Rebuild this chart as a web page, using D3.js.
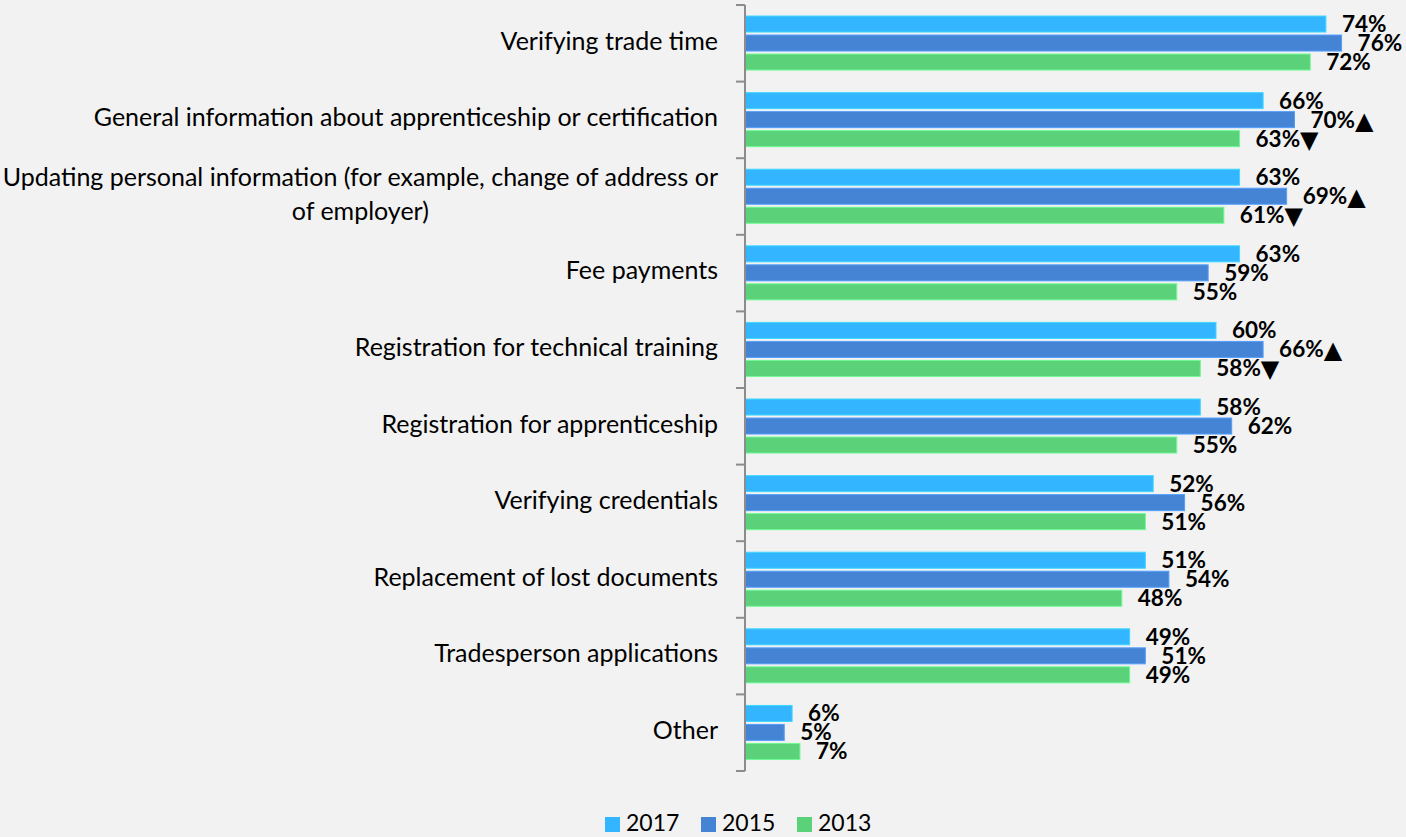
<!DOCTYPE html>
<html>
<head>
<meta charset="utf-8">
<script src="https://cdn.jsdelivr.net/npm/d3@7/dist/d3.min.js"></script>
<style>
  html, body { margin: 0; padding: 0; background: #f2f2f2; }
  svg { display: block; }
  text { font-family: Lato, "Open Sans", sans-serif; fill: #000; }
</style>
</head>
<body>
<svg id="chart"></svg>
<script>
const categories = [
  'Verifying trade time',
  'General information about apprenticeship or certification',
  'Updating personal information (for example, change of address or|of employer)',
  'Fee payments',
  'Registration for technical training',
  'Registration for apprenticeship',
  'Verifying credentials ',
  'Replacement of lost documents',
  'Tradesperson applications',
  'Other'
];
const seriesNames = ['2017', '2015', '2013'];
const values2017 = [74, 66, 63, 63, 60, 58, 52, 51, 49, 6];
const values2015 = [76, 70, 69, 59, 66, 62, 56, 54, 51, 5];
const values2013 = [72, 63, 61, 55, 58, 55, 51, 48, 49, 7];
// significance markers shown after the labels
const marks2017 = ['', '', '', '', '', '', '', '', '', ''];
const marks2015 = ['', '▲', '▲', '', '▲', '', '', '', '', ''];
const marks2013 = ['', '▼', '▼', '', '▼', '', '', '', '', ''];
const colors = ['#33b5ff', '#4584d4', '#5bd17a'];

(function() {
  const W = 1406, H = 837,
    axisX = 745;
  const $svg = d3.select('#chart').attr('width', W).attr('height', H);
  $svg.append('rect').attr('width', W).attr('height', H).attr('fill', '#f2f2f2');

  const seriesValues = [values2017, values2015, values2013],
    seriesMarks = [marks2017, marks2015, marks2013];

  const xScale = d3.scaleLinear().domain([0, 100]).range([axisX, axisX + 785]),
    yScale = d3.scaleBand().domain(categories).range([5, 771]),
    bw = yScale.bandwidth(),
    inner = d3.scaleBand().domain(seriesNames)
      .range([bw * 0.144, bw * 0.849]).paddingInner(0.158);

  const groups = $svg.selectAll('.cat')
    .data(categories)
    .enter()
    .append('g')
    .attr('class', 'cat')
    .attr('transform', (d) => 'translate(0,' + yScale(d) + ')');

  seriesNames.forEach((s, si) => {
    groups.append('rect')
      .attr('x', xScale(0))
      .attr('y', inner(s))
      .attr('width', (d, i) => xScale(seriesValues[si][i]) - xScale(0))
      .attr('height', inner.bandwidth())
      .attr('fill', colors[si])
      .attr('stroke', d3.color(colors[si]).brighter(0.5))
      .attr('stroke-width', 1);
    const $lbl = groups.append('text')
      .attr('x', (d, i) => xScale(seriesValues[si][i]) + 16)
      .attr('y', inner(s) + inner.bandwidth() / 2 + 2)
      .attr('dominant-baseline', 'middle')
      .attr('font-weight', 'bold')
      .attr('font-size', 22.5);
    $lbl.append('tspan').text((d, i) => seriesValues[si][i] + '%');
    $lbl.append('tspan')
      .style('font-family', '"DejaVu Sans"')
      .attr('font-size', 24)
      .text((d, i) => seriesMarks[si][i]);
  });

  // category labels
  groups.each(function(d) {
    const lines = d.split('|'),
      g = d3.select(this),
      cy = bw / 2;
    if (lines.length == 1) {
      g.append('text')
        .attr('x', 718)
        .attr('y', cy)
        .attr('text-anchor', 'end')
        .attr('dominant-baseline', 'middle')
        .attr('font-size', 25)
        .text(lines[0]);
    } else {
      const t1 = g.append('text')
        .attr('x', 718)
        .attr('y', cy - 17)
        .attr('text-anchor', 'end')
        .attr('dominant-baseline', 'middle')
        .attr('font-size', 25)
        .text(lines[0]);
      const len = t1.node().getComputedTextLength();
      g.append('text')
        .attr('x', 718 - len / 2)
        .attr('y', cy + 17)
        .attr('text-anchor', 'middle')
        .attr('dominant-baseline', 'middle')
        .attr('font-size', 25)
        .text(lines[1]);
    }
  });

  // vertical axis with ticks at the band edges
  const $axis = $svg.append('g');
  $axis.append('line')
    .attr('x1', axisX).attr('x2', axisX)
    .attr('y1', yScale.range()[0]).attr('y2', yScale.range()[1])
    .attr('stroke', '#8c8c8c').attr('stroke-width', 2);
  $axis.selectAll('.tick')
    .data(d3.range(categories.length + 1))
    .enter()
    .append('line')
    .attr('x1', axisX - 9).attr('x2', axisX)
    .attr('y1', (i) => yScale.range()[0] + i * yScale.step())
    .attr('y2', (i) => yScale.range()[0] + i * yScale.step())
    .attr('stroke', '#8c8c8c').attr('stroke-width', 2);

  // legend
  const legendX = [605, 701, 797];
  const $legend = $svg.append('g');
  seriesNames.forEach((s, i) => {
    $legend.append('rect')
      .attr('x', legendX[i]).attr('y', 817)
      .attr('width', 15).attr('height', 15)
      .attr('fill', colors[i]);
    $legend.append('text')
      .attr('x', legendX[i] + 21).attr('y', 825)
      .attr('dominant-baseline', 'middle')
      .attr('font-size', 23)
      .text(s);
  });
})();
</script>
</body>
</html>
